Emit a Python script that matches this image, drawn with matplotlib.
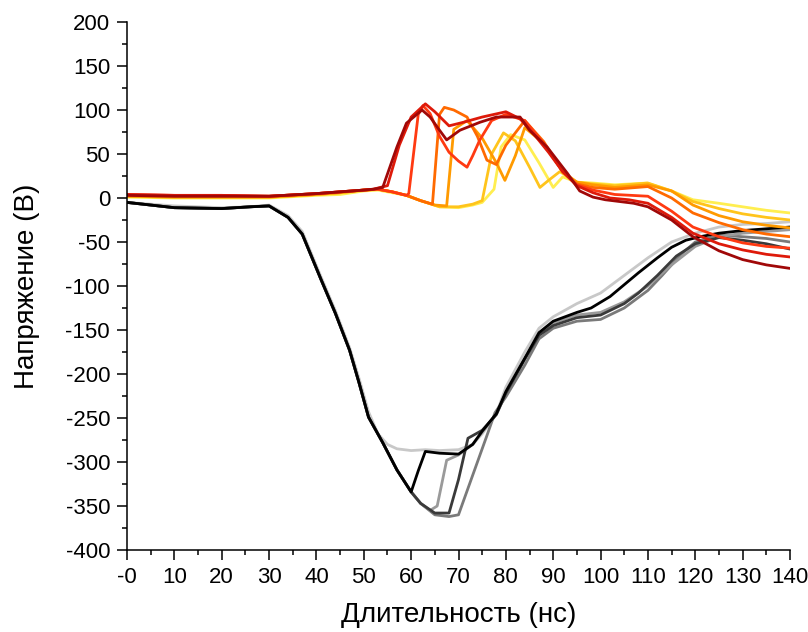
import matplotlib
matplotlib.use("Agg")
import matplotlib.pyplot as plt
from matplotlib.ticker import MultipleLocator

plt.rcParams["font.family"] = ["Liberation Sans", "DejaVu Sans"]
plt.rcParams["axes.unicode_minus"] = False

# -- Data (time in ns, voltage in V) ------------------------------------------

# dark (negative) pulses
light_x = [0, 10, 20, 26, 30, 34, 37, 39, 41, 44, 47, 49, 51, 53, 55, 57, 60, 63, 66, 70, 73, 75, 78, 80, 84, 87, 90, 95, 100, 105, 110, 115, 120, 125, 130, 135, 140]
light_y = [-5, -9, -11, -10, -8, -20, -38, -64, -90, -128, -170, -205, -243, -268, -280, -285, -287, -286, -287, -286, -280, -268, -245, -215, -175, -148, -135, -120, -108, -88, -68, -50, -40, -33, -30, -29, -27]

black_x = [0, 10, 20, 26, 30, 34, 37, 39, 41, 44, 47, 49, 51, 54, 57, 60, 61.5, 63, 66, 70, 73, 75, 78, 80, 84, 87, 90, 95, 98, 102, 108, 112, 115, 118, 121, 125, 130, 135, 140]
black_y = [-5, -11, -12, -10, -9, -22, -41, -67, -93, -131, -173, -210, -249, -278, -309, -334, -310, -288, -290, -291, -280, -265, -245, -220, -182, -153, -140, -130, -125, -112, -85, -68, -56, -48, -44, -40, -37, -35, -33]

gray_x = [0, 10, 20, 26, 30, 34, 37, 39, 41, 44, 47, 49, 51, 54, 57, 60, 62, 64, 65.5, 67.5, 70, 73, 75, 78, 80, 84, 87, 90, 95, 100, 105, 110, 115, 120, 125, 130, 135, 140]
gray_y = [-5, -11, -12, -10, -9, -22, -41, -67, -93, -131, -173, -210, -249, -278, -309, -334, -347, -355, -350, -298, -292, -280, -266, -246, -222, -183, -155, -142, -133, -130, -118, -100, -76, -55, -44, -40, -38, -36]

dgray_x = [0, 10, 20, 26, 30, 34, 37, 39, 41, 44, 47, 49, 51, 54, 57, 60, 62, 65, 68, 70, 72, 75, 78, 80, 84, 87, 90, 95, 100, 105, 108, 112, 116, 120, 125, 130, 135, 140]
dgray_y = [-5, -11, -12, -10, -9, -22, -41, -67, -93, -131, -173, -210, -249, -278, -309, -334, -347, -358, -358, -320, -273, -264, -246, -222, -183, -156, -145, -136, -133, -120, -108, -88, -66, -52, -45, -48, -52, -58]

mgray_x = [0, 10, 20, 26, 30, 34, 37, 39, 41, 44, 47, 49, 51, 54, 57, 60, 62, 65, 68, 70, 72, 74, 76, 77.7, 80, 84, 87, 90, 95, 100, 105, 110, 113, 117, 120, 125, 130, 135, 140]
mgray_y = [-5, -11, -12, -10, -9, -22, -41, -67, -93, -131, -173, -210, -249, -278, -309, -334, -347, -360, -362, -360, -330, -300, -270, -244, -226, -190, -160, -148, -140, -138, -125, -105, -88, -64, -50, -42, -44, -46, -50]

# coloured (positive) pulses
dred_x = [0, 10, 20, 30, 40, 45, 50, 52, 54, 57, 59, 62.3, 64, 66, 67.5, 70.3, 74.5, 78, 83, 85, 88.7, 93, 95.6, 98.4, 101, 107, 110, 115, 119.5, 125, 130, 135, 140]
dred_y = [3, 2, 2, 2, 5, 7, 9, 10, 12, 58, 85, 100, 92, 77, 66, 77, 86, 92, 92, 77, 58, 28, 8, 1, -2, -6, -10, -25, -44, -60, -70, -76, -80]

red_x = [0, 10, 20, 30, 40, 45, 50, 52, 55, 57.5, 60, 63, 65, 68, 71, 75, 80, 83, 86, 89, 92, 95, 98.4, 102, 106, 110, 115, 119.5, 125, 130, 135, 140]
red_y = [4, 3, 3, 2, 5, 7, 9, 10, 14, 60, 92, 107, 98, 82, 86, 92, 98, 90, 72, 52, 30, 14, 6, 0, -2, -6, -22, -40, -52, -59, -64, -67]

rorange_x = [0, 10, 20, 30, 40, 45, 50, 53, 56, 59, 59.5, 61.5, 62.5, 64, 66, 68, 70, 71.8, 73, 74.5, 77, 80, 84, 88, 92, 95, 98.4, 103, 110, 115, 119.5, 125, 130, 135, 140]
rorange_y = [4, 3, 3, 2, 5, 7, 9, 10, 7, 3, 5, 95, 105, 96, 70, 52, 42, 35, 48, 66, 88, 95, 88, 62, 30, 15, 9, 4, 2, -15, -33, -44, -51, -55, -57]

orange_x = [0, 10, 20, 30, 40, 45, 50, 53, 56, 59, 62, 64.5, 66, 67, 69, 71.8, 74, 76, 78, 80, 84, 88, 92, 95, 98.4, 103, 110, 115, 119.5, 125, 130, 135, 140]
orange_y = [3, 2, 2, 2, 5, 7, 9, 10, 7, 3, -3, -7, 95, 103, 100, 92, 70, 43, 38, 60, 88, 64, 30, 16, 12, 10, 13, 0, -17, -28, -36, -41, -44]

amber_x = [0, 10, 20, 30, 40, 45, 50, 53, 56, 59, 62, 65, 67.5, 69, 71.8, 75, 78, 79.8, 82, 84, 88, 92, 95, 98.4, 103, 110, 115, 119.5, 125, 130, 135, 140]
amber_y = [2, 1, 1, 1, 4, 6, 9, 10, 7, 3, -3, -8, -9, 78, 88, 68, 40, 20, 48, 80, 62, 30, 18, 15, 12, 15, 8, -8, -20, -27, -31, -34]

gold_x = [0, 10, 20, 30, 40, 45, 50, 53, 56, 59, 62, 66, 70, 73, 75, 77, 79.5, 82, 85, 87.2, 89, 91.4, 95, 98.4, 103, 110, 115, 119.5, 125, 130, 135, 140]
gold_y = [2, 1, 1, 1, 4, 6, 9, 10, 7, 3, -3, -10, -10, -7, -3, 50, 74, 65, 35, 12, 20, 30, 18, 16, 14, 17, 8, -4, -12, -18, -22, -25]

yellow_x = [0, 10, 20, 30, 40, 45, 50, 53, 56, 59, 62, 66, 70, 73, 75, 77.5, 79, 81, 84, 87, 90, 92, 95, 98.4, 103, 109.8, 115, 119.5, 125, 130, 135, 140]
yellow_y = [1, 0, 0, 0, 3, 4, 8, 9, 6, 3, -3, -10, -11, -8, -5, 10, 58, 72, 66, 40, 12, 24, 18, 17, 15, 17, 8, -2, -6, -10, -14, -17]

TRACES = [
    (light_x, light_y, "#c8c8c8"),
    (mgray_x, mgray_y, "#7a7a7a"),
    (gray_x, gray_y, "#9a9a9a"),
    (dgray_x, dgray_y, "#3a3a3a"),
    (black_x, black_y, "#000000"),
    (yellow_x, yellow_y, "#ffee50"),
    (gold_x, gold_y, "#ffc41c"),
    (amber_x, amber_y, "#ff9a00"),
    (orange_x, orange_y, "#ff6a00"),
    (rorange_x, rorange_y, "#ff3a12"),
    (red_x, red_y, "#de1a0a"),
    (dred_x, dred_y, "#a00808"),
]

x_ticks = [0, 10, 20, 30, 40, 50, 60, 70, 80, 90, 100, 110, 120, 130, 140]
x_ticklabels = ["-0", "10", "20", "30", "40", "50", "60", "70", "80", "90",
                "100", "110", "120", "130", "140"]
y_ticks = [-400, -350, -300, -250, -200, -150, -100, -50, 0, 50, 100, 150, 200]

# -- Plot ---------------------------------------------------------------------

fig = plt.figure(figsize=(8.08, 6.32), dpi=100)
ax = fig.add_axes([127 / 808, 1 - 550 / 632, (790 - 127) / 808, (550 - 22) / 632])

for xs, ys, c in TRACES:
    ax.plot(xs, ys, color=c, lw=2.0, solid_joinstyle="round")

ax.set_xlim(0, 140)
ax.set_ylim(-400, 200)
ax.set_xticks(x_ticks)
ax.set_xticklabels(x_ticklabels)
ax.set_yticks(y_ticks)
ax.xaxis.set_minor_locator(MultipleLocator(5))
ax.yaxis.set_minor_locator(MultipleLocator(25))

for side in ("top", "right"):
    ax.spines[side].set_visible(False)
for side in ("left", "bottom"):
    ax.spines[side].set_linewidth(1.1)

ax.tick_params(which="major", direction="out", length=7.2, width=1.1, labelsize=16, pad=5)
ax.tick_params(which="minor", direction="out", length=3.6, width=1.1)

ax.set_xlabel("Длительность (нс)", fontsize=20, labelpad=10)
ax.set_ylabel("Напряжение (В)", fontsize=20, labelpad=18)

fig.savefig("out.png", dpi=100)
